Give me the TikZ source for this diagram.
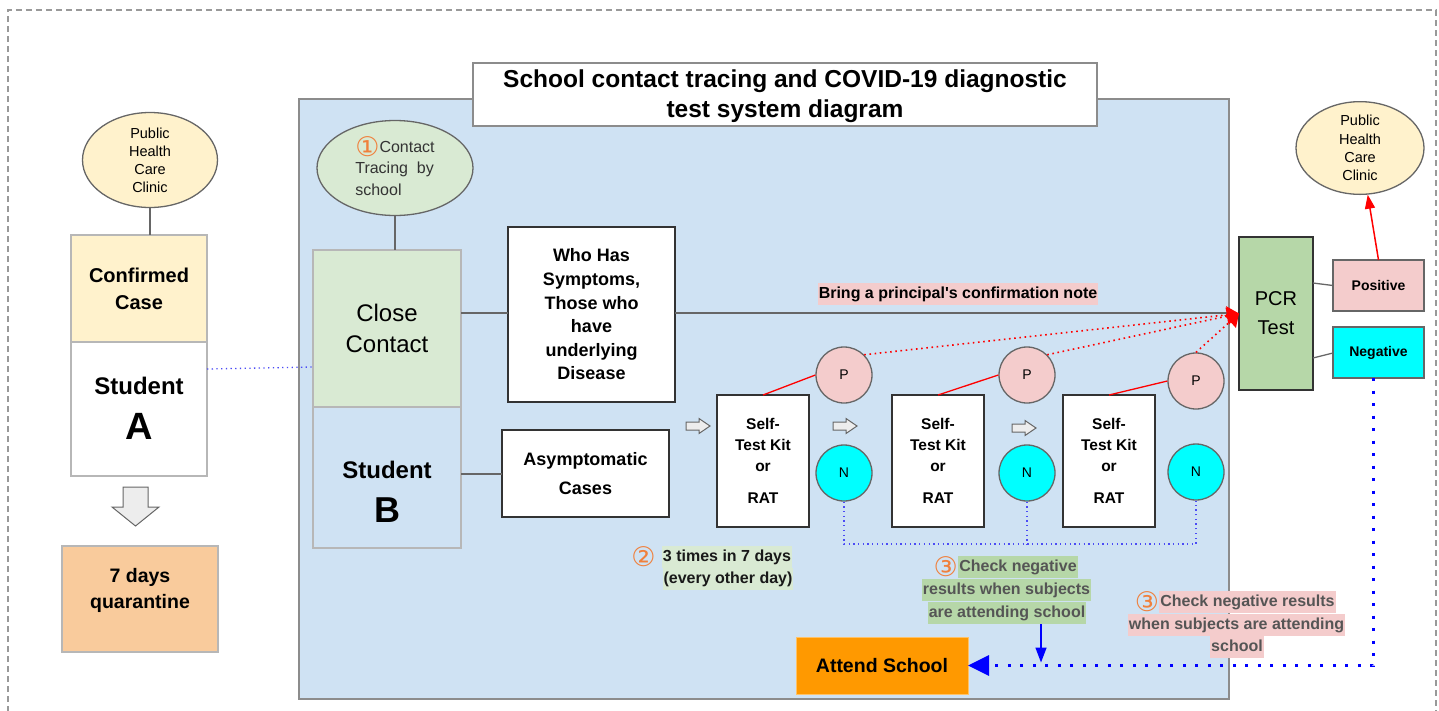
\documentclass[tikz,border=0pt]{standalone}
\usepackage{fontspec}
\setmainfont{Liberation Sans}
\newfontfamily\circfont{DejaVu Sans}
\usetikzlibrary{shapes.geometric,arrows.meta}

\definecolor{panelblue}{HTML}{CFE2F3}
\definecolor{cream}{HTML}{FFF2CC}
\definecolor{palegreen}{HTML}{D9EAD3}
\definecolor{midgreen}{HTML}{B6D7A8}
\definecolor{lightred}{HTML}{F4CCCC}
\definecolor{peach}{HTML}{F9CB9C}
\definecolor{attendorange}{HTML}{FF9900}
\definecolor{stepnum}{HTML}{F0803C}
\definecolor{dotblue}{HTML}{4B4BF5}
\definecolor{notegrey}{HTML}{555555}
\definecolor{boxgrey}{HTML}{B7B7B7}
\definecolor{linegrey}{HTML}{666666}
\definecolor{panelgrey}{HTML}{8C8C8C}
\definecolor{kitcyan}{HTML}{00FFFF}

\newcommand{\fs}[2]{\fontsize{#1}{#2}\selectfont}
% circled step numbers
\newcommand{\stepglyph}[1]{{\circfont\fs{27}{27}\color{stepnum}#1}}
% the same, set inline without disturbing the line spacing
\newcommand{\stepmark}[1]{\raisebox{-4.5pt}{\smash{\stepglyph{#1}}}}

\begin{document}
\begin{tikzpicture}[x=1pt,y=-1pt,
  box/.style={rectangle, inner sep=0pt, outer sep=0pt, align=center, line width=1.5pt},
  softbox/.style={box, draw=boxgrey},
  hardbox/.style={box, draw=black!80},
  conn/.style={draw=linegrey, line width=1.3pt},
  thindot/.style={draw=dotblue, line width=1.3pt, dash pattern=on 1.3pt off 3.4pt},
  thickdot/.style={draw=blue, line width=3pt, dash pattern=on 3pt off 9.5pt},
  reddot/.style={draw=red, line width=1.6pt, dash pattern=on 1.6pt off 3.6pt},
  redline/.style={draw=red, line width=1.3pt},
  result/.style={circle, draw=linegrey, line width=1.3pt, minimum size=56pt, inner sep=0pt, font=\fs{14}{16}},
  kitbox/.style={hardbox, fill=white, minimum width=92pt, minimum height=132pt, font=\bfseries\fs{15.5}{21}},
  hl/.style={inner xsep=1pt, inner ysep=0pt, text height=15.5pt, text depth=6.5pt, font=\bfseries\fs{16}{20}},
  markstyle/.style={anchor=east, inner sep=0pt},
  blockarrow/.style={draw=linegrey, fill=black!7, line width=1pt, line join=miter},
  rarr/.pic={\path[blockarrow] (0,-4) -- (13,-4) -- (13,-7.5) -- (24,0) -- (13,7.5) -- (13,4) -- (0,4) -- cycle;},
  darr/.pic={\path[blockarrow] (-12.5,0) -- (12.5,0) -- (12.5,20) -- (23.5,20) -- (0,39) -- (-23.5,20) -- (-12.5,20) -- cycle;},
  pcrtip/.style={-{Triangle[length=12pt,width=17pt]}}
]
\useasboundingbox (0,0) rectangle (1439,710);

% outer dashed frame
\draw[draw=black!40, line width=1.5pt, dash pattern=on 6pt off 4pt] (8,712) -- (8,10) -- (1436,10) -- (1436,712);

% ---------- left column: confirmed case ----------
\node[ellipse, draw=linegrey, line width=1.3pt, fill=cream, minimum width=135pt, minimum height=95pt,
      inner sep=0pt, align=center, font=\fs{14.5}{18}] (clinicL) at (150,160) {Public\\Health\\Care\\Clinic};
\node[softbox, fill=cream, minimum width=136pt, minimum height=107pt, font=\bfseries\fs{20}{27}] (conf) at (139,288.5) {Confirmed\\Case};
\node[softbox, fill=white, minimum width=136pt, minimum height=134pt] (stuA) at (139,409) {};
\node[font=\bfseries\fs{24}{28}] (stuAname) at (139,386) {Student};
\node[font=\bfseries\fs{38}{40}] (stuAletter) at (139,426) {A};
\draw[conn] (clinicL.south) -- (clinicL.south |- conf.north);

\pic at (135.5,487) {darr};

\node[softbox, fill=peach, minimum width=156pt, minimum height=106pt] (quar) at (140,599) {};
\node[font=\bfseries\fs{19.5}{26}, align=center] (quartext) at (140,590) {7 days\\quarantine};

% ---------- school panel ----------
\node[box, draw=panelgrey, line width=2pt, fill=panelblue, minimum width=930pt, minimum height=600pt] (panel) at (764,398.5) {};
\node[box, draw=black!45, fill=white, minimum width=624pt, minimum height=63pt] (title) at (785,94.5) {};
\node[font=\bfseries\fs{24.5}{30}, align=center] (titletext) at (785,96.5) {School contact tracing and COVID-19 diagnostic\\test system diagram};

\node[ellipse, draw=linegrey, line width=1.3pt, fill=palegreen, minimum width=156pt, minimum height=95pt,
      inner sep=0pt, align=left, font=\fs{16}{21.5}, text=black!80] (trace) at (395,168)
      {\stepmark{①}Contact\\Tracing~~by\\school};

\node[softbox, fill=palegreen, minimum width=148pt, minimum height=157pt, font=\fs{24}{31}] (close) at (387,328.5) {Close\\Contact};
\node[softbox, fill=panelblue, minimum width=148pt, minimum height=141pt] (stuB) at (387,477.5) {};
\node[font=\bfseries\fs{24}{28}] (stuBname) at (387,470) {Student};
\node[font=\bfseries\fs{36}{40}] (stuBletter) at (387,510) {B};
\draw[conn] (trace.south) -- (trace.south |- close.north);

\draw[thindot] (stuA.east |- 0,369) -- (close.west |- 0,367);

\node[hardbox, fill=white, minimum width=167pt, minimum height=175pt, font=\bfseries\fs{18}{23.6}] (who) at (591.5,314.5)
      {Who Has\\Symptoms,\\Those who\\have\\underlying\\Disease};
\node[hardbox, fill=white, minimum width=167pt, minimum height=87pt, font=\bfseries\fs{18}{29}] (asym) at (585.5,473.5)
      {Asymptomatic\\Cases};

\draw[conn] (close.east |- 0,313) -- (who.west |- 0,313);
\draw[conn] (stuB.east |- 0,474) -- (asym.west |- 0,474);

% self-test rounds
\node[kitbox] (kit1) at (763,461) {Self-\\Test Kit\\or\\[11pt]RAT};
\node[kitbox] (kit2) at (938,461) {Self-\\Test Kit\\or\\[11pt]RAT};
\node[kitbox] (kit3) at (1109,461) {Self-\\Test Kit\\or\\[11pt]RAT};

\pic at (686,426) {rarr};
\pic at (833,426) {rarr};
\pic at (1012,428) {rarr};

\node[result, fill=lightred] (p1) at (844,375) {P};
\node[result, fill=lightred] (p2) at (1027,375) {P};
\node[result, fill=lightred] (p3) at (1196,381) {P};
\node[result, fill=kitcyan] (n1) at (844,473) {N};
\node[result, fill=kitcyan] (n2) at (1027,473) {N};
\node[result, fill=kitcyan] (n3) at (1196,472) {N};

\draw[redline] (kit1.north) -- (p1.west);
\draw[redline] (kit2.north) -- (p2.west);
\draw[redline] (kit3.north) -- (p3.west);

\draw[thindot] (n1.south) -- (n1.south |- 0,544) -- (n3.south |- 0,544) -- (n3.south);
\draw[thindot] (n2.south) -- (n2.south |- 0,544);

% step notes
\node[hl, fill=palegreen, text=black!90] (freq1) at (727,557) {3 times in 7 days};
\node[hl, fill=palegreen, text=black!90] (freq2) at (728,579) {(every other day)};
\node[markstyle] (freqmark) at ([xshift=-6pt]freq1.west) {\stepglyph{②}};

\node[hl, fill=midgreen, text=notegrey] (g1) at (1018,567) {Check negative};
\node[markstyle] (gmark) at (g1.west) {\stepglyph{③}};
\node[hl, fill=midgreen, text=notegrey] (g2) at (1006.5,590) {results when subjects};
\node[hl, fill=midgreen, text=notegrey] (g3) at (1007,613) {are attending school};

\node[hl, fill=lightred, text=notegrey] (r1) at (1247.5,602) {Check negative results};
\node[markstyle] (rmark) at (r1.west) {\stepglyph{③}};
\node[hl, fill=lightred, text=notegrey] (r2) at (1236.5,625) {when subjects are attending};
\node[hl, fill=lightred, text=notegrey] (r3) at (1237,647) {school};

\node[box, fill=attendorange, draw=attendorange!60!white, line width=1pt, minimum width=172pt, minimum height=57pt,
      font=\bfseries\fs{19.5}{24}] (attend) at (882,665.5) {Attend School};

% ---------- PCR test ----------
\node[hardbox, fill=midgreen, minimum width=74pt, minimum height=153pt, font=\fs{20}{29}] (pcr) at (1276,313.5) {PCR\\Test};
\node[box, draw=linegrey, fill=lightred, minimum width=91pt, minimum height=51pt, font=\bfseries\fs{14}{16}] (pos) at (1378.5,285.5) {Positive};
\node[box, draw=linegrey, fill=kitcyan, minimum width=91pt, minimum height=51pt, font=\bfseries\fs{14}{16}] (neg) at (1378.5,352.5) {Negative};
\node[ellipse, draw=linegrey, line width=1.3pt, fill=cream, minimum width=128pt, minimum height=80pt,
      inner sep=0pt, align=center, font=\fs{14.5}{18.3}] (clinicR) at (1360,148) {Public\\Health\\Care\\Clinic};

\draw[conn] (pcr.east |- 0,283) -- (pos.west);
\draw[conn] (pcr.east |- 0,358) -- (neg.west |- 0,353);
\draw[redline, line width=1.5pt, -{Triangle[length=14pt,width=10pt]}] (pos.north) -- (clinicR);

\draw[conn] (who.east |- 0,313) -- (panel.east |- 0,313);
\node[hl, fill=lightred, text=black] (note) at (958,294) {Bring a principal\textquotesingle s confirmation note};

\draw[reddot, pcrtip] (p1.north east) -- (pcr.west);
\draw[reddot, pcrtip] (p2.north east) -- (pcr.west);
\draw[reddot, pcrtip] (p3.north) -- (pcr.west);

% return to school
\coordinate (merge) at (1041,665.5);
\draw[thickdot, -{Triangle[length=21pt,width=20pt]}] (neg.south -| 1373,0) -- (1373,665.5) -- (attend.east);
\draw[draw=blue, line width=1.5pt, -{Triangle[length=15pt,width=11pt]}] (g3.south -| merge) -- ([yshift=3pt]merge);
\end{tikzpicture}
\end{document}
